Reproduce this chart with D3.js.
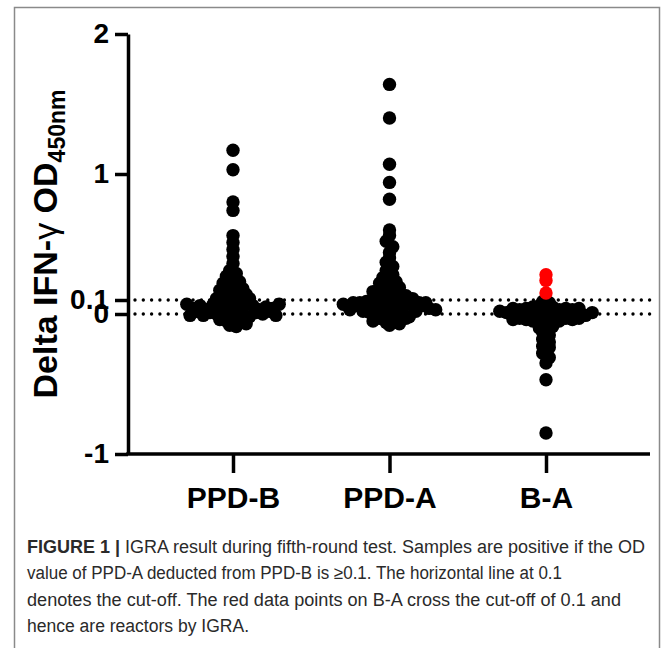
<!DOCTYPE html>
<html>
  <head>
    <meta charset="utf-8">
    <style>
      html, body {
        margin: 0px;
        padding: 0px;
        background: #fff;
      }
      svg {
        display: block;
      }
      .axis text, .ytitle {
        font-family: "Liberation Sans", Arial, sans-serif;
        font-weight: bold;
        fill: #000;
      }
      .caption {
        font-family: "Liberation Sans Narrow", "Liberation Sans", Arial, sans-serif;
        font-size: 18px;
        fill: #2a2a2a;
      }
    </style>
  </head>
  <body>
    <svg id="chart" width="669" height="648"></svg>
    <script src="https://cdnjs.cloudflare.com/ajax/libs/d3/7.8.5/d3.min.js"></script>
    <script>
      // values (delta OD450), roughly top to bottom
      var groups = ["PPD-B", "PPD-A", "B-A"];

      var ppdB = [
        1.17, 1.03, 0.80, 0.74, 0.56, 0.51, 0.46, 0.41, 0.36,
        0.31, 0.29,
        0.27, 0.25, 0.23,
        0.22, 0.20, 0.19, 0.18,
        0.17, 0.15, 0.13, 0.16, 0.14,
        0.11, 0.09, 0.12, 0.10, 0.08, 0.11,
        0.07, 0.04, 0.06, 0.03, 0.07, 0.05, 0.06, 0.04, 0.05, 0.07, 0.06, 0.03, 0.05, 0.04, 0.07,
        -0.01, 0.02, -0.01, 0.01, 0.00, 0.02, -0.02, 0.01, 0.00, -0.02, 0.01, 0.00, 0.02, -0.01,
        -0.04, -0.05, -0.03, -0.06, -0.07,
        -0.08, -0.09
      ];

      var ppdA = [
        1.64, 1.40, 1.07, 0.94, 0.82,
        0.60, 0.56, 0.52, 0.48, 0.44, 0.40, 0.37, 0.34, 0.31, 0.28,
        0.26, 0.24, 0.23,
        0.22, 0.20, 0.21, 0.19,
        0.16, 0.13, 0.17, 0.15, 0.14, 0.13,
        0.08, 0.08, 0.09, 0.11, 0.10, 0.12, 0.08, 0.09, 0.10, 0.11, 0.08, 0.08,
        0.07, 0.03, 0.06, 0.04, 0.07, 0.05, 0.03, 0.06, 0.04, 0.05, 0.07, 0.03, 0.06, 0.04, 0.03,
        0.02, 0.01, 0.00, 0.02, -0.01, 0.01, 0.00, -0.02, 0.02,
        -0.05, -0.03, -0.06, -0.04, -0.07, -0.03,
        -0.08
      ];

      var bMinusA = [
        0.28, 0.24, 0.15,
        0.09, 0.08,
        0.04, 0.03, 0.04, 0.05, 0.06, 0.04, 0.05, 0.03, 0.04, 0.03, 0.04,
        0.02, 0.01, 0.00, 0.01, -0.01, 0.00, 0.02, -0.01, 0.01, 0.00, -0.02, 0.01, 0.00, -0.01, 0.01,
        -0.04, -0.03, -0.04, -0.05, -0.03, -0.06, -0.04, -0.05, -0.03, -0.04, -0.03,
        -0.10, -0.08, -0.09,
        -0.13, -0.15,
        -0.18, -0.20,
        -0.23, -0.24,
        -0.28, -0.31, -0.35, -0.47, -0.85
      ];

      var yTicks = [-1, 0, 0.1, 1, 2];
      var yTickLabels = {"-1": "-1", "0": "0", "0.1": "0.1", "1": "1", "2": "2"};
      var cutLines = [0, 0.1];
      var reactorCutoff = 0.1;

      var captionLines = [
        [["FIGURE 1 |", true], [" IGRA result during fifth-round test. Samples are positive if the OD", false]],
        [["value of PPD-A deducted from PPD-B is \u22650.1. The horizontal line at 0.1", false]],
        [["denotes the cut-off. The red data points on B-A cross the cut-off of 0.1 and", false]],
        [["hence are reactors by IGRA.", false]]
      ];
      var captionWidths = [618, 535, 594, 222];

      var svg = d3.select("#chart");

      // figure frame
      svg.append("rect")
        .attr("x", 14.5).attr("y", 7.5)
        .attr("width", 645).attr("height", 660)
        .attr("fill", "none").attr("stroke", "#8a8a8a").attr("stroke-width", 1.5);

      var y = d3.scaleLinear().domain([-1, 2]).range([454, 34]);
      var x = d3.scalePoint().domain(groups).range([233, 546]);
      var axisLeftX = 128, axisRight = 650;
      var r = 6.7, step = 6.6, binSize = 0.05;

      // dotted cut-off lines
      svg.selectAll(".cut")
        .data(cutLines)
        .enter().append("line")
        .attr("class", "cut")
        .attr("x1", axisLeftX + 7).attr("x2", axisRight)
        .attr("y1", function(d) { return y(d); })
        .attr("y2", function(d) { return y(d); })
        .attr("stroke", "#000")
        .attr("stroke-width", 3.4)
        .attr("stroke-linecap", "round")
        .attr("stroke-dasharray", "0,8.3");

      // prism-like scatter: values binned by height, each bin spread sideways round the centre
      function spread(values, group) {
        var bins = d3.group(values.map(function(v) { return {v: v, group: group}; }),
          function(d) { return Math.round(d.v / binSize + 1e-9); });
        var out = [];
        bins.forEach(function(list) {
          list.forEach(function(d, j) {
            d.dx = (j - (list.length - 1) / 2) * step;
            out.push(d);
          });
        });
        return out;
      }

      function isReactor(d) {
        return d.group === "B-A" && d.v > reactorCutoff;
      }

      var points = []
        .concat(spread(ppdB, "PPD-B"))
        .concat(spread(ppdA, "PPD-A"))
        .concat(spread(bMinusA, "B-A"));

      // black first, reactors (red) on top
      points.sort(function(a, b) {
        return (isReactor(a) ? 1 : 0) - (isReactor(b) ? 1 : 0);
      });

      svg.append("g").selectAll("circle")
        .data(points)
        .enter().append("circle")
        .attr("cx", function(d) { return x(d.group) + d.dx; })
        .attr("cy", function(d) { return y(d.v); })
        .attr("r", r)
        .attr("fill", function(d) { return isReactor(d) ? "#ff0000" : "#000"; });

      // axes
      var yAxis = d3.axisLeft(y)
        .tickValues(yTicks)
        .tickFormat(function(d) { return yTickLabels[String(d)]; })
        .tickSize(13).tickSizeOuter(0).tickPadding(6);

      var gy = svg.append("g")
        .attr("class", "axis")
        .attr("transform", "translate(" + axisLeftX + ",0)")
        .call(yAxis);
      gy.selectAll("path, line").attr("stroke", "#000").attr("stroke-width", 3.5);
      gy.selectAll("text").attr("font-size", 28);

      var xAxis = d3.axisBottom(x).tickSize(19).tickSizeOuter(0).tickPadding(14);
      var gx = svg.append("g")
        .attr("class", "axis")
        .attr("transform", "translate(0," + y(-1) + ")")
        .call(xAxis);
      gx.select(".domain").remove();
      gx.selectAll("line").attr("stroke", "#000").attr("stroke-width", 3.5);
      gx.selectAll("text").attr("font-size", 30);
      gx.append("line")
        .attr("x1", axisLeftX - 1.75).attr("x2", axisRight)
        .attr("y1", 0).attr("y2", 0)
        .attr("stroke", "#000").attr("stroke-width", 3.5);

      // y axis title
      var title = svg.append("text")
        .attr("class", "ytitle")
        .attr("transform", "translate(57," + (y(-1) + y(2)) / 2 + ") rotate(-90)")
        .attr("text-anchor", "middle")
        .attr("font-size", 34);
      title.append("tspan").text("Delta IFN-");
      title.append("tspan").attr("font-weight", "normal").text("\u03b3");
      title.append("tspan").text(" OD");
      title.append("tspan").attr("font-size", 23).attr("dy", 8).text("450nm");

      // caption
      captionLines.forEach(function(line, i) {
        var t = svg.append("text")
          .attr("class", "caption")
          .attr("x", 27)
          .attr("y", 553 + i * 26.4)
          .attr("textLength", captionWidths[i])
          .attr("lengthAdjust", "spacingAndGlyphs");
        line.forEach(function(part) {
          t.append("tspan")
            .attr("font-weight", part[1] ? "bold" : "normal")
            .text(part[0]);
        });
      });
    </script>
  </body>
</html>
